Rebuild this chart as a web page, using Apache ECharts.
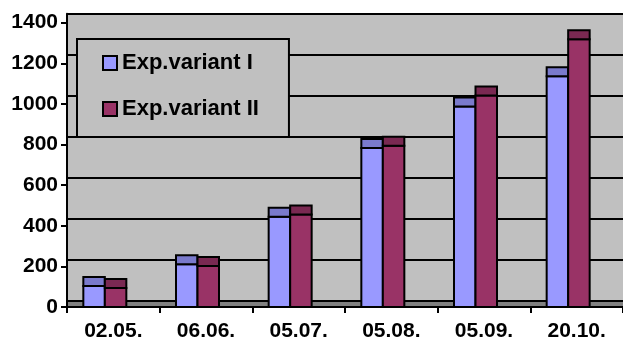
<!DOCTYPE html>
<html>
<head>
<meta charset="utf-8">
<script src="https://cdn.jsdelivr.net/npm/echarts@6/dist/echarts.min.js"></script>
<style>
html,body{margin:0;padding:0;background:#fff;}
#chart{width:623px;height:342px;}
</style>
</head>
<body>
<div id="chart"></div>
<script>
var categories = ['02.05.', '06.06.', '05.07.', '05.08.', '05.09.', '20.10.'];
var variantI = [104, 211, 444, 783, 987, 1136];
var variantII = [94, 202, 456, 794, 1042, 1319];
var seriesNames = ['Exp.variant I', 'Exp.variant II'];
var yTicks = [0, 200, 400, 600, 800, 1000, 1200, 1400];

var FONT = '"Liberation Sans", Arial, sans-serif';
var frontColors = ['#9999ff', '#993366'];
var capColors = ['#7a7acc', '#7a2952'];
var DEPTH = 9;
var BAR_W = 21.5;
var PAIR_SHIFT = -8.5;

function makeRender(k) {
  return function (params, api) {
    var idx = api.value(0), v = api.value(1);
    var top = api.coord([idx, v]);
    var base = api.coord([idx, 0]);
    var x0 = top[0] + PAIR_SHIFT + (k === 0 ? -BAR_W : 0);
    return {
      type: 'group',
      children: [
        { type: 'rect', shape: { x: x0, y: top[1], width: BAR_W, height: base[1] - top[1] },
          style: { fill: frontColors[k], stroke: '#000', lineWidth: 2 } },
        { type: 'rect', shape: { x: x0, y: top[1] - DEPTH, width: BAR_W, height: DEPTH },
          style: { fill: capColors[k], stroke: '#000', lineWidth: 2 } }
      ]
    };
  };
}

var chart = echarts.init(document.getElementById('chart'), null, { renderer: 'canvas' });
var yMin = yTicks[0], yMax = yTicks[yTicks.length - 1], yStep = yTicks[1] - yTicks[0];

chart.setOption({
  animation: false,
  backgroundColor: '#ffffff',
  legend: {
    orient: 'vertical',
    left: 77, top: 39,
    padding: [13, 30, 17, 25],
    itemGap: 24,
    itemWidth: 14, itemHeight: 14,
    borderColor: '#000', borderWidth: 2,
    backgroundColor: '#c0c0c0',
    z: 10,
    textStyle: { fontFamily: FONT, fontWeight: 'bold', fontSize: 22, color: '#000' },
    data: [
      { name: seriesNames[0], icon: 'rect', itemStyle: { color: frontColors[0], borderColor: '#000', borderWidth: 2 } },
      { name: seriesNames[1], icon: 'rect', itemStyle: { color: frontColors[1], borderColor: '#000', borderWidth: 2 } }
    ]
  },
  grid: [
    { left: 67, width: 560, top: 22.7, bottom: 32.7, show: true, backgroundColor: '#808080', borderWidth: 0 },
    { left: 67, width: 560, top: 13.7, bottom: 41.7, show: true, backgroundColor: '#c0c0c0', borderWidth: 0 }
  ],
  xAxis: [
    { type: 'category', gridIndex: 0, data: categories, boundaryGap: true,
      axisLine: { show: true, lineStyle: { color: '#000', width: 2 } },
      axisTick: { show: true, length: 6, lineStyle: { color: '#000', width: 2 } },
      axisLabel: { fontFamily: FONT, fontWeight: 'bold', fontSize: 21, color: '#000', margin: 14 },
      splitLine: { show: false }, z: 5 },
    { type: 'category', gridIndex: 1, data: categories, show: false }
  ],
  yAxis: [
    { type: 'value', gridIndex: 0, min: yMin, max: yMax, interval: yStep,
      axisLine: { show: true, lineStyle: { color: '#000', width: 2 } },
      axisTick: { show: true, length: 6, lineStyle: { color: '#000', width: 2 } },
      axisLabel: { fontFamily: FONT, fontWeight: 'bold', fontSize: 21, color: '#000', margin: 9,
        formatter: function (v) { return String(v); } },
      splitLine: { show: false }, z: 5 },
    { type: 'value', gridIndex: 1, min: yMin, max: yMax, interval: yStep,
      axisLine: { show: true, lineStyle: { color: '#000', width: 2 } },
      axisTick: { show: false }, axisLabel: { show: false },
      splitLine: { show: true, lineStyle: { color: '#000', width: 2 } } }
  ],
  series: [
    { name: seriesNames[0], type: 'custom', xAxisIndex: 0, yAxisIndex: 0, z: 3,
      itemStyle: { color: frontColors[0] },
      renderItem: makeRender(0),
      data: variantI.map(function (v, i) { return [i, v]; }) },
    { name: seriesNames[1], type: 'custom', xAxisIndex: 0, yAxisIndex: 0, z: 3,
      itemStyle: { color: frontColors[1] },
      renderItem: makeRender(1),
      data: variantII.map(function (v, i) { return [i, v]; }) }
  ]
});
</script>
</body>
</html>
